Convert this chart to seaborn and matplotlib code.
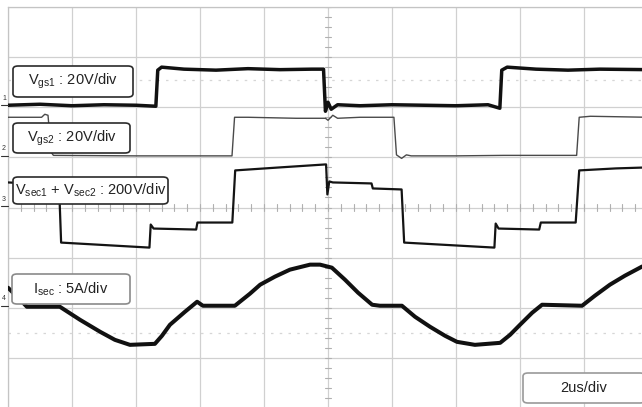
import numpy as np
import matplotlib
matplotlib.use("Agg")
import matplotlib.pyplot as plt
import matplotlib.transforms as mtransforms
from matplotlib.patches import FancyBboxPatch
import seaborn as sns

# time in us (2us/div, 10 div on screen), amplitude in screen divisions (8 div)
vgs1_t = [0.0, 1.0, 2.0, 3.0, 4.0, 4.62, 4.68, 4.8, 5.5, 6.5, 7.5, 8.5, 9.5, 9.86, 9.92, 10.0, 10.1, 10.3,
          11.0, 12.0, 13.0, 14.0, 15.0, 15.37, 15.43, 15.6, 16.5, 17.5, 18.5, 20.0]
vgs1_v = [6.04, 6.06, 6.03, 6.05, 6.04, 6.02, 6.74, 6.8, 6.76, 6.74, 6.77, 6.75, 6.76, 6.76, 5.92, 6.1, 5.96, 6.05,
          6.03, 6.05, 6.04, 6.03, 6.05, 5.98, 6.74, 6.8, 6.76, 6.74, 6.76, 6.75]

vgs2_t = [0.0, 1.05, 1.15, 1.25, 1.35, 1.42, 4.0, 7.0, 7.08, 7.5, 9.0, 9.92, 10.0, 10.15, 10.3, 11.0, 12.06,
          12.14, 12.3, 12.45, 12.6, 14.0, 15.5, 17.77, 17.85, 18.2, 20.0]
vgs2_v = [5.8, 5.8, 5.86, 5.84, 5.1, 5.04, 5.03, 5.03, 5.8, 5.8, 5.78, 5.78, 5.74, 5.84, 5.78, 5.8, 5.8,
          5.05, 4.98, 5.05, 5.03, 5.03, 5.04, 5.04, 5.8, 5.82, 5.8]

vsec_t = [0.0, 0.64, 0.68, 1.6, 1.66, 4.42, 4.46, 4.55, 5.88, 5.92, 7.01, 7.1, 8.5, 9.94, 9.98, 10.04, 10.15,
          11.36, 11.4, 12.3, 12.38, 15.2, 15.24, 15.33, 16.6, 16.65, 17.74, 17.85, 19.0, 20.0]
vsec_v = [4.5, 4.48, 4.38, 4.36, 3.3, 3.2, 3.66, 3.58, 3.56, 3.7, 3.7, 4.74, 4.8, 4.86, 4.26, 4.52, 4.5,
          4.48, 4.38, 4.36, 3.3, 3.2, 3.68, 3.58, 3.56, 3.7, 3.7, 4.74, 4.78, 4.8]

isec_t = [0.0, 0.38, 0.59, 1.62, 2.25, 2.88, 3.34, 3.81, 4.59, 4.81, 5.06, 5.53, 5.91, 6.09, 7.09, 7.56, 7.88,
          8.34, 8.81, 9.44, 9.75, 10.12, 10.53, 10.94, 11.38, 11.62, 12.31, 12.72, 13.19, 13.66, 14.03, 14.59,
          15.38, 15.69, 16.0, 16.38, 16.69, 17.94, 18.34, 18.81, 19.28, 19.81, 20.0]
isec_v = [2.4, 2.16, 2.02, 2.02, 1.76, 1.52, 1.36, 1.26, 1.28, 1.44, 1.66, 1.92, 2.12, 2.04, 2.04, 2.28, 2.46,
          2.62, 2.76, 2.86, 2.86, 2.8, 2.56, 2.3, 2.06, 2.04, 2.04, 1.82, 1.62, 1.44, 1.32, 1.26,
          1.3, 1.46, 1.66, 1.9, 2.06, 2.04, 2.24, 2.46, 2.64, 2.82, 2.86]

channel_names = ["1", "2", "3", "4"]
channel_levels = [6.04, 5.03, 4.02, 2.04]
cursor_levels = [6.54, 1.5]

labels = [r"V$_{\mathrm{gs1}}$ : 20V/div",
          r"V$_{\mathrm{gs2}}$ : 20V/div",
          r"V$_{\mathrm{sec1}}$ + V$_{\mathrm{sec2}}$ : 200V/div",
          r"I$_{\mathrm{sec}}$ : 5A/div",
          "2us/div"]

# label boxes in pixels: x0, y0 (top), x1, y1, edge colour
W, H = 642, 407
boxes = [(13, 66, 133, 97, "#2a2a2a"),
         (13, 123, 130, 153, "#2a2a2a"),
         (13, 177, 168, 204, "#2a2a2a"),
         (12, 274, 130, 304, "#8a8a8a"),
         (523, 373, 645, 403, "#9a9a9a")]

sns.set_style("white")
plt.rcParams["font.family"] = ["Liberation Sans", "DejaVu Sans"]
plt.rcParams["mathtext.fontset"] = "custom"
plt.rcParams["mathtext.rm"] = "Liberation Sans"
plt.rcParams["mathtext.it"] = "Liberation Sans:italic"

fig = plt.figure(figsize=(W / 100, H / 100), dpi=100)
ax = fig.add_axes([8 / W, -1 / H, 640 / W, 401 / H])
ax.set_xlim(0, 20)
ax.set_ylim(0, 8)
ax.set_xticks(np.arange(0, 21, 2))
ax.set_yticks(np.arange(0, 9, 1))
ax.grid(True, color="#d0d0d0", lw=0.9)
ax.tick_params(length=0, labelleft=False, labelbottom=False)
for s in ax.spines.values():
    s.set_color("#c4c4c4")
    s.set_linewidth(0.9)

# minor ticks on centre lines
for xt in np.arange(0, 20.01, 0.4):
    ax.plot([xt, xt], [3.94, 4.06], color="#b0b0b0", lw=0.8, zorder=1)
for yt in np.arange(0, 8.01, 0.2):
    ax.plot([9.9, 10.1], [yt, yt], color="#b0b0b0", lw=0.8, zorder=1)
for c in cursor_levels:
    ax.axhline(c, color="#d6d6d6", lw=0.9, ls=(0, (2, 5)), zorder=1)

sns.lineplot(x=vgs2_t, y=vgs2_v, estimator=None, sort=False, color="#4a4a4a", lw=1.0, ax=ax, zorder=3)
sns.lineplot(x=vgs1_t, y=vgs1_v, estimator=None, sort=False, color="#111111", lw=2.5, ax=ax, zorder=3)
sns.lineplot(x=vsec_t, y=vsec_v, estimator=None, sort=False, color="#141414", lw=1.6, ax=ax, zorder=3)
sns.lineplot(x=isec_t, y=isec_v, estimator=None, sort=False, color="#111111", lw=2.9, ax=ax, zorder=3)

# channel ground markers at the left edge
trans = mtransforms.blended_transform_factory(fig.transFigure, ax.transData)
for name, lvl in zip(channel_names, channel_levels):
    fig.text(4 / W, lvl + 0.07, name, transform=trans, fontsize=5, ha="center", va="bottom", color="#333333")
    fig.add_artist(plt.Line2D([1 / W, 8 / W], [lvl, lvl], transform=trans, color="#333333", lw=0.8))

for (x0, y0, x1, y1, ec), txt in zip(boxes, labels):
    patch = FancyBboxPatch((x0 / W, 1 - y1 / H), (x1 - x0) / W, (y1 - y0) / H,
                           boxstyle="round,pad=0,rounding_size=0.008", transform=fig.transFigure,
                           fc="white", ec=ec, lw=1.2, zorder=5)
    fig.add_artist(patch)
    fig.text((x0 + x1) / 2 / W, 1 - (y0 + y1) / 2 / H, txt, ha="center", va="center",
             fontsize=10.5, color="#222222", zorder=6)

fig.savefig("out.png", dpi=100, facecolor="white")
